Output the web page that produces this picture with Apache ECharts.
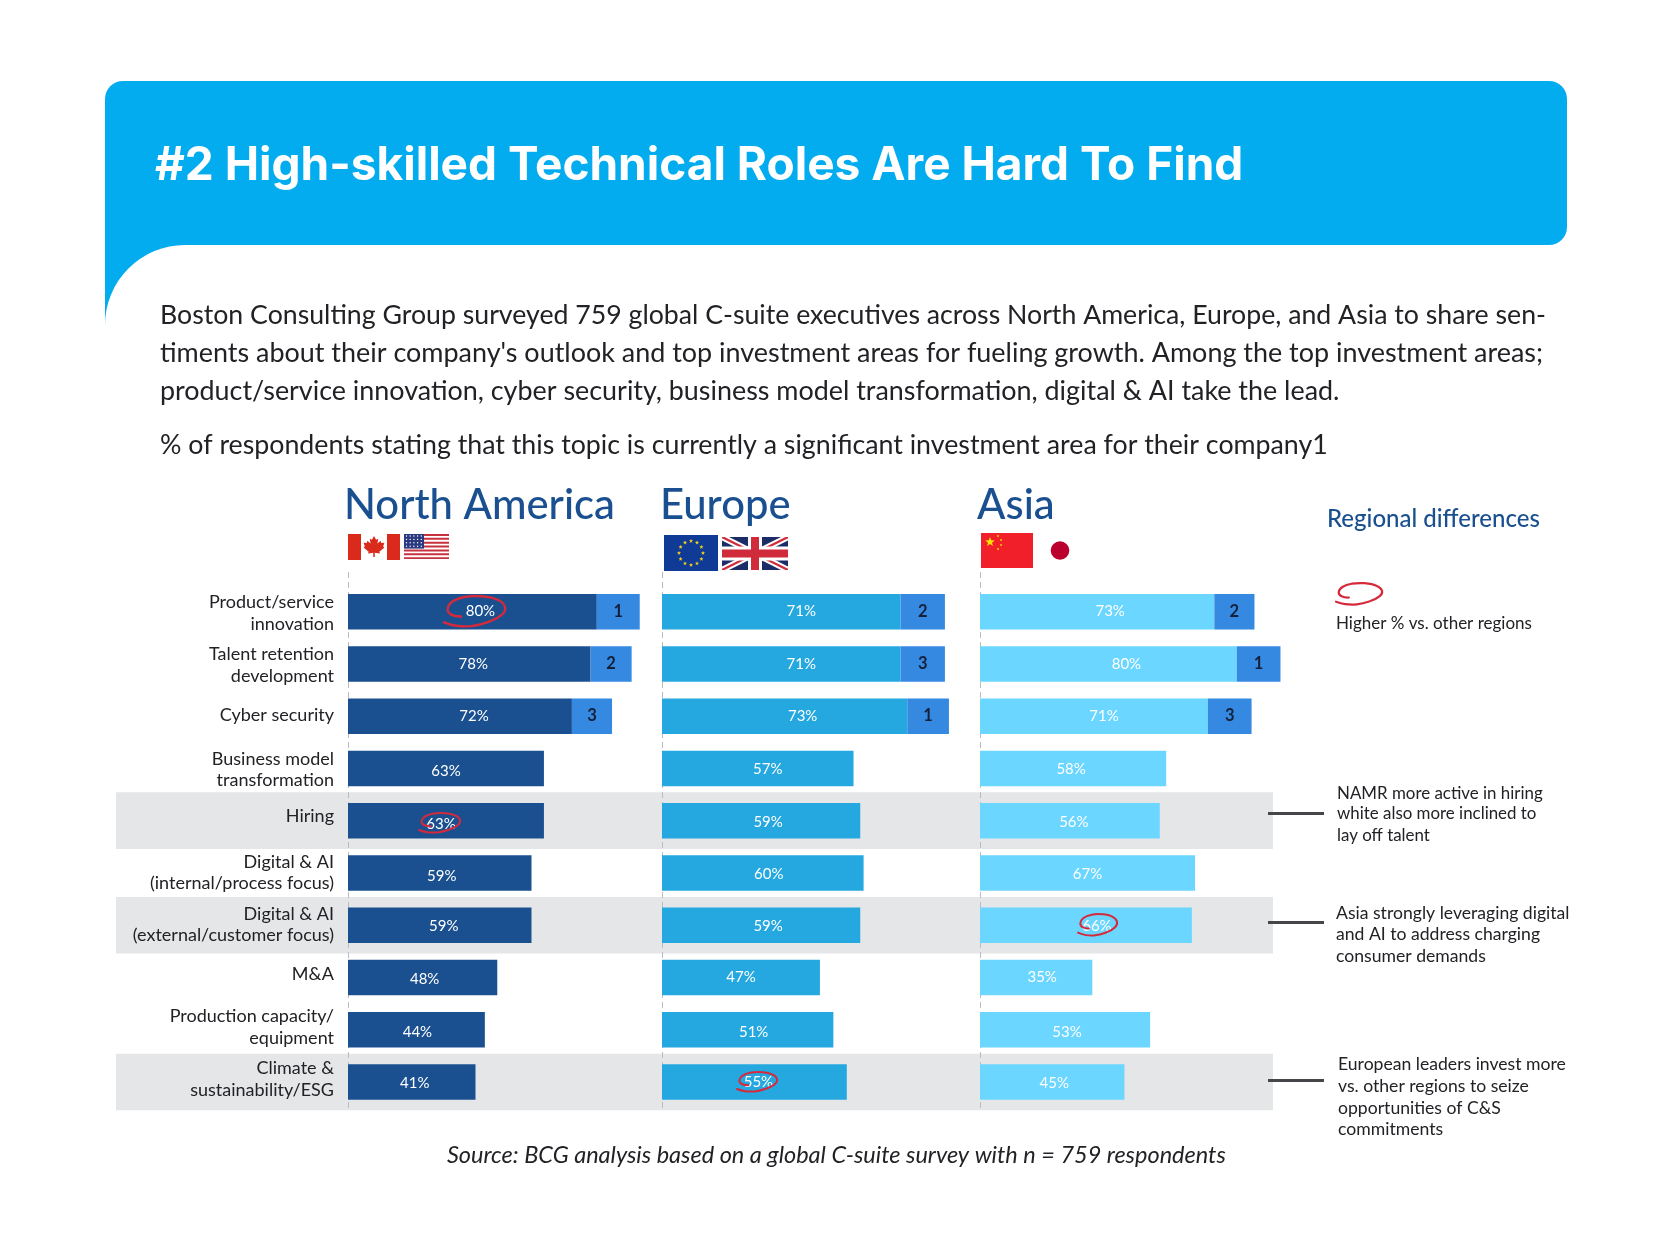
<!DOCTYPE html>
<html>
<head>
<meta charset="utf-8">
<script src="https://cdn.jsdelivr.net/npm/echarts@6/dist/echarts.min.js"></script>
<style>html,body{margin:0;padding:0;background:#fff}#c{width:1677px;height:1257px}</style>
</head>
<body>
<div id="c"></div>
<script>
// ---------- data ----------
const categories = [
  'Product/service\ninnovation','Talent retention\ndevelopment','Cyber security',
  'Business model\ntransformation','Hiring','Digital & AI\n(internal/process focus)',
  'Digital & AI\n(external/customer focus)','M&A','Production capacity/\nequipment',
  'Climate &\nsustainability/ESG'
];
const northAmerica = [80,78,72,63,63,59,59,48,44,41];
const europe       = [71,71,73,57,59,60,59,47,51,55];
const asia         = [73,80,71,58,56,67,66,35,53,45];
const northAmericaRank = [1,2,3];
const europeRank       = [2,3,1];
const asiaRank         = [2,1,3];
// length of the rank tabs, in % units
const northAmericaTab = [13.8,13.2,12.9];
const europeTab       = [13.2,13.2,12.4];
const asiaTab         = [12.5,13.6,13.6];
const highlightedRows = ['Hiring','Digital & AI\n(external/customer focus)','Climate &\nsustainability/ESG'];

const titleText = '#2 High-skilled Technical Roles Are Hard To Find';
const bodyLines = [
  'Boston Consulting Group surveyed 759 global C-suite executives across North America, Europe, and Asia to share sen-',
  "timents about their company's outlook and top investment areas for fueling growth. Among the top investment areas;",
  'product/service innovation, cyber security, business model transformation, digital & AI take the lead.'
];
const subLine = '% of respondents stating that this topic is currently a significant investment area for their company1';
const sourceLine = 'Source: BCG analysis based on a global C-suite survey with n = 759 respondents';

// ---------- layout / style ----------
const NAVY='#1a5090', SKY='#25a8e0', ICE='#6bd6ff', TAB='#3589e0', INK='#222226', RED='#d42a3c';
const FONT='Lato';
const gridTop=585.5, rowH=52.26, gridH=rowH*10;
const panels=[
  {name:'North America',x:348,w:311,color:NAVY,vals:northAmerica,rank:northAmericaRank,tab:northAmericaTab,
   dx:[8,4,14,0,-5,2,4,2,1,3],dy:[0,0,0,3,3,3,1,2,2,1]},
  {name:'Europe',x:662,w:336,color:SKY,vals:europe,rank:europeRank,tab:europeTab,
   dx:[20,20,18,10,7,6,7,0,6,4],dy:[0,0,0,1,1,1,1,0,2,0]},
  {name:'Asia',x:980,w:321,color:ICE,vals:asia,rank:asiaRank,tab:asiaTab,
   dx:[13,18,10,-2,4,0,11,6,2,2],dy:[0,0,0,1,1,1,1,0,2,1]}
];
const labelLift=[0,0,2,0,6,1.5,2,4.5,4,4.5];

// ---------- text ----------
function T(text,x,y,size,o){o=o||{};
  const lh=Math.round(size*1.3);
  return {text:text,left:x,top:y+1.5-lh/2,padding:0,z:8,
    textStyle:{fontFamily:o.family||FONT,fontSize:size,fontWeight:o.weight||'normal',fontStyle:o.style||'normal',
      color:o.color||INK,lineHeight:lh}};
}
const titles=[
  T(titleText,155,165,46,{weight:'bold',color:'#fff',family:'Inter'}),
  T(bodyLines[0],160,314,26.7),T(bodyLines[1],160,352,26.95),T(bodyLines[2],160,390,26.9),
  T(subLine,160,444,26.75),
  T('North America',344,504,41.8,{color:NAVY,weight:500}),
  T('Europe',660,504,41.8,{color:NAVY,weight:500}),
  T('Asia',977,504,41.8,{color:NAVY,weight:500}),
  T('Regional differences',1327,518,24,{color:NAVY,weight:500}),
  T('Higher % vs. other regions',1336,622,17),
  T('NAMR more active in hiring',1337,792,16.9),T('white also more inclined to',1337,812,16.9),T('lay off talent',1337,834,16.9),
  T('Asia strongly leveraging digital',1336,912,17.6),T('and AI to address charging',1336,933,17.6),T('consumer demands',1336,955,17.6),
  T('European leaders invest more',1338,1063,17.6),T('vs. other regions to seize',1338,1085,17.6),T('opportunities of C&S',1338,1107,17.6),T('commitments',1338,1128,17.6),
  T(sourceLine,447,1154,23.5,{style:'italic'})
];

// ---------- decoration ----------
const g=[];
const zz=(z,d)=>z==null?d:z;
const rect=(x,y,w,h,fill,z,r)=>g.push({type:'rect',shape:{x,y,width:w,height:h,r:r||0},style:{fill},z:zz(z,5),silent:true});
const poly=(pts,fill,z)=>g.push({type:'polygon',shape:{points:pts},style:{fill},z:zz(z,5),silent:true});
const circ=(cx,cy,r,fill,z)=>g.push({type:'circle',shape:{cx,cy,r},style:{fill},z:zz(z,5),silent:true});
const line=(x1,y1,x2,y2,stroke,lw,dash,z)=>g.push({type:'line',shape:{x1,y1,x2,y2},style:{stroke,lineWidth:lw,lineDash:dash||null},z:zz(z,1),silent:true});
function star(cx,cy,R,fill,rot){const p=[];for(let i=0;i<10;i++){const a=-Math.PI/2+i*Math.PI/5+(rot||0),r=i%2?R*0.42:R;p.push([cx+r*Math.cos(a),cy+r*Math.sin(a)]);}poly(p,fill,6);}

// header
rect(105,245,80,80,'#02acef',0);
circ(185,325,80,'#fff',0);
rect(105,81,1462,164,'#02acef',0,[18,18,18,0]);

// grey rows, dashed axes, leader lines
highlightedRows.forEach(c=>{const i=categories.indexOf(c);rect(116,gridTop+(i+.5)*rowH-28.3,1157,56.7,'#e5e6e8',0);});
panels.forEach(p=>line(p.x+.5,572,p.x+.5,1112,'#b9bcc0',1,[6,4],1));
[813.5,922.5,1080.5].forEach(y=>line(1268,y,1324,y,'#454649',3,null,3));

// flags
rect(348,534,52,26,'#fff');rect(348,534,13,26,'#d92a1c');rect(387,534,13,26,'#d92a1c');
(function(cx,cy,s){const L=[[0,-11],[2.2,-7],[4.5,-8.2],[3.6,-3.2],[7,-6],[7.6,-3.6],[11,-4],[9.6,0],[11,1],[5.6,5.4],[6.4,7.4],[.8,6.6],[.8,11],[-.8,11],[-.8,6.6],[-6.4,7.4],[-5.6,5.4],[-11,1],[-9.6,0],[-11,-4],[-7.6,-3.6],[-7,-6],[-3.6,-3.2],[-4.5,-8.2],[-2.2,-7]];
  poly(L.map(p=>[cx+p[0]*s,cy+p[1]*s]),'#d92a1c',6);})(374,546.5,.95);
rect(404,534,45,27,'#fff');
for(let i=0;i<7;i++)rect(404,534+i*3.86,45,1.95,'#c8313e',6);
rect(404,534,20,14.6,'#2b3a80',6);
for(let r=0;r<4;r++)for(let c=0;c<5;c++)circ(406.5+c*3.7,536+r*3.4,.7,'#fff',7);

rect(664,535,54,36,'#0f3a96');
for(let i=0;i<12;i++){const a=i*Math.PI/6;star(691+12*Math.sin(a),553-12*Math.cos(a),2.2,'#f2cf1b');}

(function(x,y,w,h){rect(x,y,w,h,'#1b2c66');
  const diag=(d,c)=>{poly([[x,y],[x+d,y],[x+w,y+h-d*h/w],[x+w,y+h],[x+w-d,y+h],[x,y+d*h/w]],c,6);
    poly([[x+w,y],[x+w-d,y],[x,y+h-d*h/w],[x,y+h],[x+d,y+h],[x+w,y+d*h/w]],c,6);};
  diag(7,'#fff');diag(2.5,'#cf2b3a');
  rect(x+w/2-7,y,14,h,'#fff',7);rect(x,y+h/2-7,w,14,'#fff',7);
  rect(x+w/2-4,y,8,h,'#cf2b3a',7);rect(x,y+h/2-4,w,8,'#cf2b3a',7);
})(722,537,66,33);

rect(981,533,52,35,'#f01f29');
star(990,542,5,'#fde100');
[[998,536],[1001,540],[1001,545],[998,549]].forEach(s=>star(s[0],s[1],1.5,'#fde100'));
circ(1060,550.5,9.3,'#bc002d');

// hand-drawn red circles
function scribble(x,y,w,h,lw){
  const u=[[0,.85],[.2,.96],[.45,.97],[.72,.84],[.95,.6],[1,.35],[.88,.12],[.62,.01],[.35,.03],[.14,.18],[.06,.42],[.12,.6],[.28,.66]];
  g.push({type:'polyline',shape:{points:u.map(p=>[x+p[0]*w,y+p[1]*h]),smooth:.45},
    style:{stroke:RED,lineWidth:lw||2.4,fill:'none',lineCap:'round'},z:20,silent:true});
}
scribble(444,596,61,31);
scribble(419,813,41,20,2);
scribble(1078,914,39,22,2);
scribble(737,1072,40,20,2);
scribble(1336,583,46,22,2.2);

// ---------- chart ----------
const grid=[],xAxis=[],yAxis=[],series=[];
const liftRich={base:{lineHeight:21.5,align:'right',fontFamily:FONT,fontSize:18,color:INK}};
labelLift.forEach((v,i)=>{liftRich['g'+i]={lineHeight:v*2,fontSize:1,align:'right'};});
panels.forEach((p,n)=>{
  grid.push({left:p.x,top:gridTop,width:p.w,height:gridH,containLabel:false});
  xAxis.push({type:'value',gridIndex:n,min:0,max:100,show:false});
  yAxis.push({type:'category',gridIndex:n,data:categories,inverse:true,
    axisLine:{show:false},axisTick:{show:false},splitLine:{show:false},
    axisLabel:{show:n===0,margin:14,interval:0,align:'right',padding:[3,0,0,0],
      formatter:(val,i)=>val.split('\n').map(s=>'{base|'+s+'}').join('\n')+(labelLift[i]?'\n{g'+i+'| }':''),
      rich:liftRich}});
  series.push({type:'bar',name:p.name,xAxisIndex:n,yAxisIndex:n,stack:'s'+n,barWidth:35.5,z:3,
    itemStyle:{color:p.color},
    data:p.vals.map((v,i)=>({value:v,label:{offset:[p.dx[i],p.dy[i]]}})),
    label:{show:true,position:'inside',formatter:'{c}%',color:'#fff',fontFamily:FONT,fontSize:15}});
  series.push({type:'bar',name:p.name+' rank',xAxisIndex:n,yAxisIndex:n,stack:'s'+n,barWidth:35.5,z:3,
    itemStyle:{color:TAB},
    data:p.tab.map((v,i)=>({value:v,rank:p.rank[i]})),
    label:{show:true,position:'inside',color:'#14203a',fontFamily:FONT,fontSize:16.5,fontWeight:'bold',
      formatter:q=>p.rank[q.dataIndex]}});
});
const chart=echarts.init(document.getElementById('c'),null,{renderer:'canvas'});
chart.setOption({animation:false,backgroundColor:'#fff',title:titles,grid,xAxis,yAxis,series,graphic:{elements:g},tooltip:{show:false}});
</script>
</body>
</html>
